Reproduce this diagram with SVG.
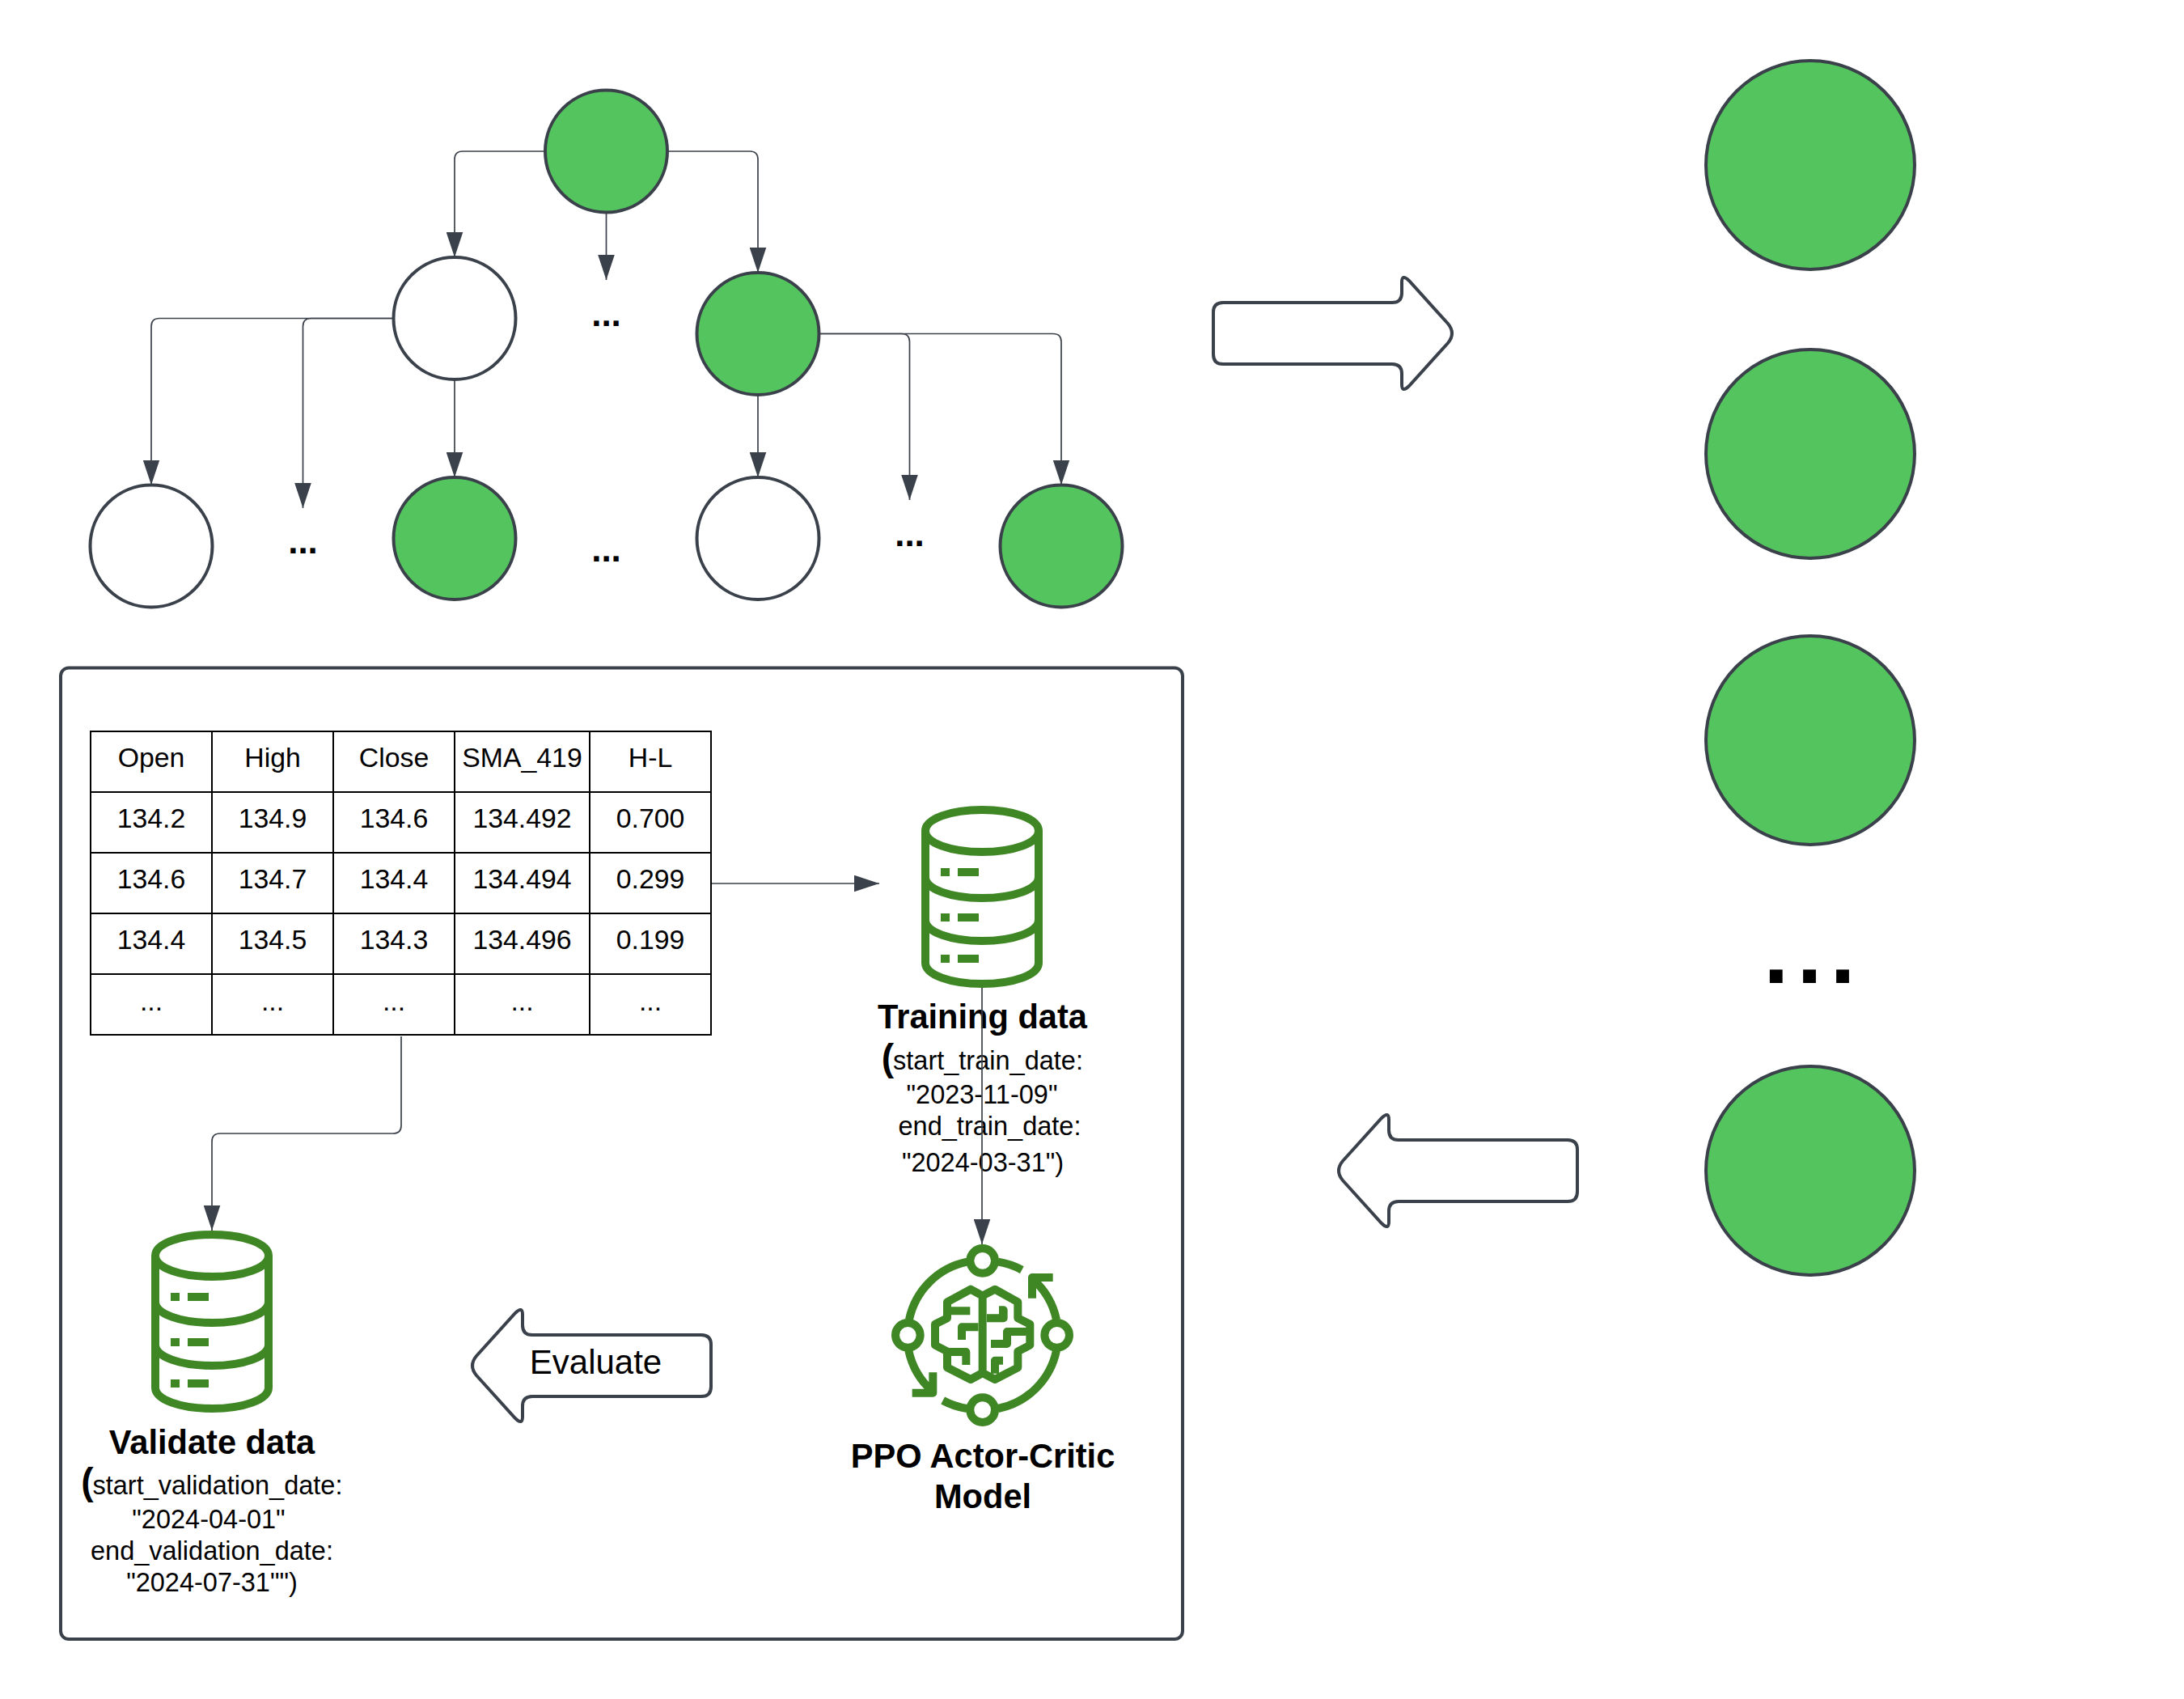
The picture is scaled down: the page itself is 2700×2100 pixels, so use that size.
<svg xmlns="http://www.w3.org/2000/svg" xmlns:xlink="http://www.w3.org/1999/xlink" width="2700" height="2100" viewBox="0 0 2700 2100">
<style>
text{font-family:"Liberation Sans",Arial,sans-serif;fill:#000;text-anchor:middle}
.t{font-size:33.8px}
.s{font-size:32.5px}
.b{font-size:41.6px;font-weight:700}
.d{font-size:44px;font-weight:700}
.lbl{font-size:42px}
.g{fill:#54c45e;stroke:#3a414a;stroke-width:4}
.w{fill:#fff;stroke:#3a414a;stroke-width:4}
.c{fill:none;stroke:#3a414a;stroke-width:1.7;marker-end:url(#ah)}
.grid{stroke:#000;stroke-width:2;fill:none}
.ic{fill:none;stroke:#3f8624;stroke-width:10}
.icf{fill:#3f8624}
.br{fill:none;stroke:#3f8624;stroke-width:30;stroke-linejoin:round}
</style>
<defs>
<marker id="ah" markerUnits="userSpaceOnUse" markerWidth="31" markerHeight="21" refX="31" refY="10.5" orient="auto"><path d="M0,0.2 L31,10.5 L0,20.8 Z" fill="#3a414a"/></marker>
<path id="blockarrow" class="w" d="M286,-38 H77 Q65,-38 65,-50 V-63 Q65,-74 56,-65 L8,-12 Q-2,0 8,12 L56,65 Q65,74 65,63 V50 Q65,38 77,38 H286 Q298,38 298,26 V-26 Q298,-38 286,-38 Z"/>
<g id="cyl">
<path class="ic" d="M5,31 C5,16 36,5 75,5 C114,5 145,16 145,31 C145,46 114,57 75,57 C36,57 5,46 5,31 Z M5,31 V194 C5,209 36,220 75,220 C114,220 145,209 145,194 V31 M5,88 C5,103 36,114 75,114 C114,114 145,103 145,88 M5,141 C5,156 36,167 75,167 C114,167 145,156 145,141"/>
<path class="icf" d="M24,77h11v10h-11z M45,77h26v10h-26z M24,133h11v10h-11z M45,133h26v10h-26z M24,184h11v10h-11z M45,184h26v10h-26z"/>
</g>
</defs>
<rect width="2700" height="2100" fill="#fff"/>
<g transform="translate(0,1)">
<rect id="frame" x="75" y="824.5" width="1387" height="1200.5" rx="10" fill="#fff" stroke="#3a414a" stroke-width="4"/>
<g id="tree" transform="translate(0,-1)">
<circle id="root" class="g" cx="749.5" cy="187" r="75.5"/>
<circle id="mid-left" class="w" cx="562" cy="393.5" r="75.5"/>
<circle id="mid-right" class="g" cx="937" cy="412.5" r="75.5"/>
<circle id="leaf-1" class="w" cx="187" cy="675" r="75.5"/>
<circle id="leaf-2" class="g" cx="562" cy="665.5" r="75.5"/>
<circle id="leaf-3" class="w" cx="937" cy="665.5" r="75.5"/>
<circle id="leaf-4" class="g" cx="1312" cy="675" r="75.5"/>
<text class="d" x="749.5" y="403">...</text>
<text class="d" x="374.5" y="684">...</text>
<text class="d" x="749.5" y="694">...</text>
<text class="d" x="1124.5" y="675">...</text>
</g>
<g id="outputs">
<circle id="out-1" class="g" cx="2238" cy="203" r="129"/>
<circle id="out-2" class="g" cx="2238" cy="560" r="129"/>
<circle id="out-3" class="g" cx="2238" cy="914" r="129"/>
<circle id="out-4" class="g" cx="2238" cy="1446" r="129"/>
<text x="2242" y="1214" font-size="112" font-weight="700" letter-spacing="10">...</text>
</g>
<use id="arrow-out" xlink:href="#blockarrow" href="#blockarrow" transform="translate(1798,411) scale(-1,1)"/>
<use id="arrow-back" xlink:href="#blockarrow" href="#blockarrow" transform="translate(1652,1446)"/>
<g id="evaluate">
<use xlink:href="#blockarrow" href="#blockarrow" transform="translate(581,1687)"/>
<text class="lbl" x="736.5" y="1697">Evaluate</text>
</g>
<g id="table">
<path class="grid" d="M112,903H879V1278H112Z M112,978H879 M112,1053H879 M112,1128H879 M112,1203H879 M262,903V1278 M412,903V1278 M562,903V1278 M729,903V1278"/>
<g class="t">
<text x="187" y="947">Open</text><text x="337" y="947">High</text><text x="487" y="947">Close</text><text x="645.5" y="947">SMA_419</text><text x="804" y="947">H-L</text>
<text x="187" y="1022">134.2</text><text x="337" y="1022">134.9</text><text x="487" y="1022">134.6</text><text x="645.5" y="1022">134.492</text><text x="804" y="1022">0.700</text>
<text x="187" y="1097">134.6</text><text x="337" y="1097">134.7</text><text x="487" y="1097">134.4</text><text x="645.5" y="1097">134.494</text><text x="804" y="1097">0.299</text>
<text x="187" y="1172">134.4</text><text x="337" y="1172">134.5</text><text x="487" y="1172">134.3</text><text x="645.5" y="1172">134.496</text><text x="804" y="1172">0.199</text>
<text x="187" y="1248">...</text><text x="337" y="1248">...</text><text x="487" y="1248">...</text><text x="645.5" y="1248">...</text><text x="804" y="1248">...</text>
</g>
</g>
<g id="training">
<use xlink:href="#cyl" href="#cyl" transform="translate(1139,995)"/>
<text class="b" x="1214.5" y="1270">Training data</text>
<text class="b" x="1097.5" y="1322" style="font-size:46px">(</text>
<text class="s" x="1221.5" y="1321">start_train_date:</text>
<text class="s" x="1214" y="1363">"2023-11-09"</text>
<text class="s" x="1223.5" y="1402">end_train_date:</text>
<text class="s" x="1215" y="1447">"2024-03-31")</text>
</g>
<g id="validate">
<use xlink:href="#cyl" href="#cyl" transform="translate(187,1520)"/>
<text class="b" x="262" y="1796">Validate data</text>
<text class="b" x="108" y="1846" style="font-size:46px">(</text>
<text class="s" x="269" y="1846">start_validation_date:</text>
<text class="s" x="258" y="1888">"2024-04-01"</text>
<text class="s" x="262" y="1927">end_validation_date:</text>
<text class="s" x="262" y="1966">"2024-07-31"")</text>
</g>
<g id="model">
<g transform="translate(1000,1480) scale(.33333)">
<circle class="br" cx="644" cy="232" r="46"/><circle class="br" cx="367" cy="508" r="46"/><circle class="br" cx="920" cy="508" r="46"/><circle class="br" cx="644" cy="785" r="46"/>
<path class="br" d="M372,450 A276,276 0 0 1 587,236 M702,236 A276,276 0 0 1 790,266 M918,450 A276,276 0 0 0 830,300 M905,294 H828 V371 M918,565 A276,276 0 0 1 702,780 M586,780 A276,276 0 0 1 497,750 M370,565 A276,276 0 0 0 458,716 M383,722 H460 V646"/>
<path class="br" d="M644,362 L600,338 L513,385 V445 L468,467 V545 L513,568 V628 L600,672 L644,648 L690,672 L775,628 V568 L820,545 V467 L775,445 V385 L690,338 Z M644,362 V648 M513,418 H598 M628,478 H567 V525 M513,570 H583 V618 M705,415 H722 V445 H660 M805,495 H735 V540 H675 M720,602 H690 V650"/>
</g>
<text class="b" x="1215" y="1813">PPO Actor-Critic</text>
<text class="b" x="1215" y="1863">Model</text>
</g>
<g id="connectors">
<g transform="translate(0,-1)">
<path class="c" d="M674,187 H572 Q562,187 562,197 V318"/>
<path class="c" d="M825,187 H927 Q937,187 937,197 V337"/>
<path class="c" d="M749.5,262.5 V346"/>
<path class="c" d="M486.5,393.5 H197 Q187,393.5 187,403.5 V599.5"/>
<path class="c" d="M486.5,393.5 H384.5 Q374.5,393.5 374.5,403.5 V628"/>
<path class="c" d="M562,469 V590"/>
<path class="c" d="M1012.5,412.5 H1114.5 Q1124.5,412.5 1124.5,422.5 V618"/>
<path class="c" d="M1012.5,412.5 H1302 Q1312,412.5 1312,422.5 V599.5"/>
<path class="c" d="M937,488 V590"/>
</g>
<path class="c" d="M880,1091 H1087"/>
<path class="c" d="M496,1280 V1390 Q496,1400 486,1400 H272 Q262,1400 262,1410 V1520"/>
<path class="c" d="M1214,1220 V1537"/>
</g>
</g>
</svg>
